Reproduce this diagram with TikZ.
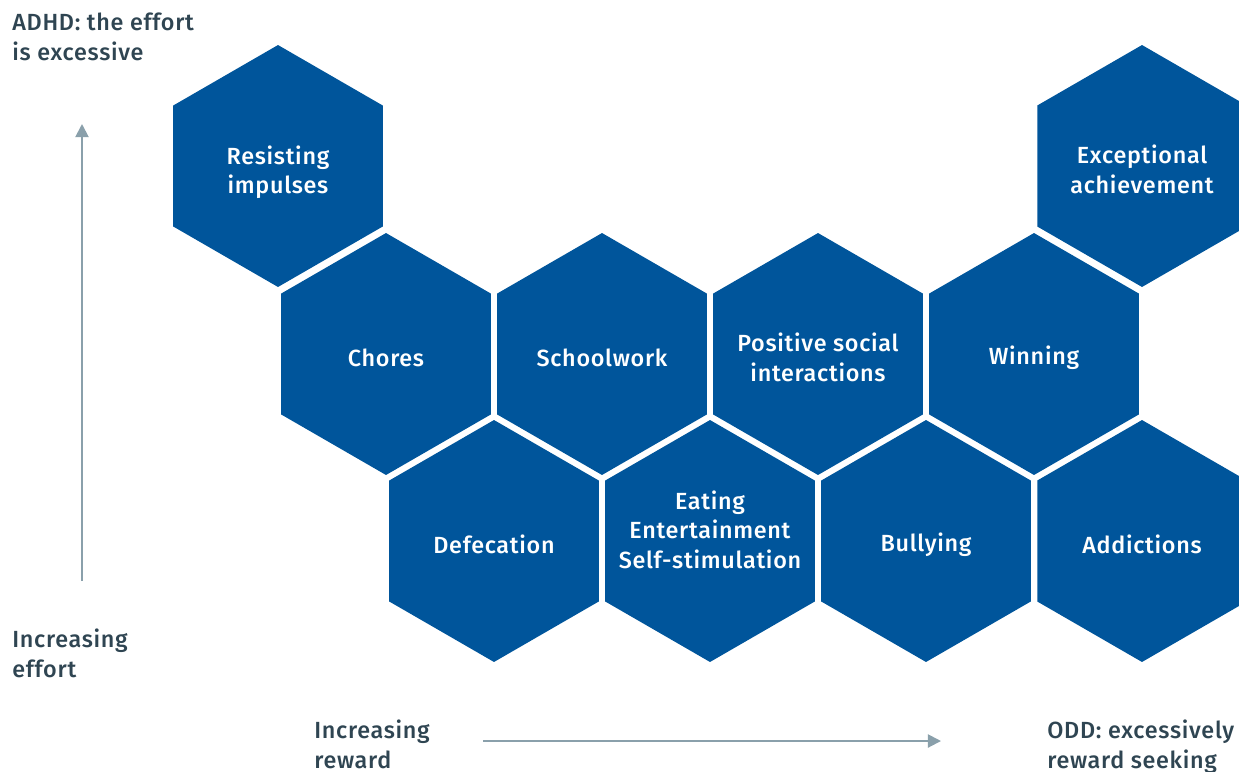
\documentclass[tikz,border=0pt]{standalone}
\usepackage{fontspec}
\setmainfont{Fira Sans Medium}[LetterSpace=3]
\usetikzlibrary{shapes.geometric}
\usetikzlibrary{arrows.meta}
\definecolor{hexblue}{HTML}{00559B}
\definecolor{inkgray}{HTML}{2F4552}
\definecolor{axisgray}{HTML}{8AA0AB}
\tikzset{
  hexa/.style={regular polygon,regular polygon sides=6,shape border rotate=30,
    minimum size=4.84cm,inner sep=0pt,fill=hexblue},
  hexlbl/.style={text=white,align=center,inner sep=0pt,yshift=-0.07cm,
    font=\fontsize{13.3}{16.8}\selectfont},
  axislbl/.style={anchor=north west,inner sep=0pt,align=left,text=inkgray,
    font=\fontsize{13.3}{16.8}\selectfont},
  axis/.style={draw=axisgray,line width=1.1pt,-{Triangle[length=7.5pt,width=7.5pt]}}
}
\begin{document}
\begin{tikzpicture}[x=0.02cm,y=-0.02cm]
		\useasboundingbox (0,0) rectangle (1239,771);
		\clip (0,0) rectangle (1239,771);
		\node[hexa,label={[hexlbl,yshift=-0.05cm]center:Resisting\\impulses}] (A) at (278,166) {};
		\node[hexa,label={[hexlbl]center:Exceptional\\achievement}] (B) at (1142,166) {};
		\node[hexa,label={[hexlbl]center:Chores}] (C) at (386,354) {};
		\node[hexa,label={[hexlbl]center:Schoolwork}] (D) at (602,354) {};
		\node[hexa,label={[hexlbl]center:Positive social\\interactions}] (E) at (818,354) {};
		\node[hexa,label={[hexlbl]center:Winning}] (F) at (1034,354) {};
		\node[hexa,label={[hexlbl]center:Defecation}] (G) at (494,541) {};
		\node[hexa,label={[hexlbl,yshift=0.3cm]center:Eating\\Entertainment\\Self-stimulation}] (H) at (710,541) {};
		\node[hexa,label={[hexlbl]center:Bullying}] (I) at (926,541) {};
		\node[hexa,label={[hexlbl]center:Addictions}] (J) at (1142,541) {};
		\node[axislbl] (adhd) at (12,13) {ADHD: the effort\\is excessive};
		\node[axislbl] (effort) at (12,629) {Increasing\\effort};
		\node[axislbl] (reward) at (314,720) {Increasing\\reward};
		\node[axislbl] (odd) at (1047,720) {ODD: excessively\\reward seeking};
		\coordinate (e0) at (82,581);
		\coordinate (e1) at (82,124);
		\coordinate (r0) at (483,741);
		\coordinate (r1) at (941,741);
		\draw [axis] (e0) -- (e1);
		\draw [axis] (r0) -- (r1);
	\end{tikzpicture}
\end{document}
